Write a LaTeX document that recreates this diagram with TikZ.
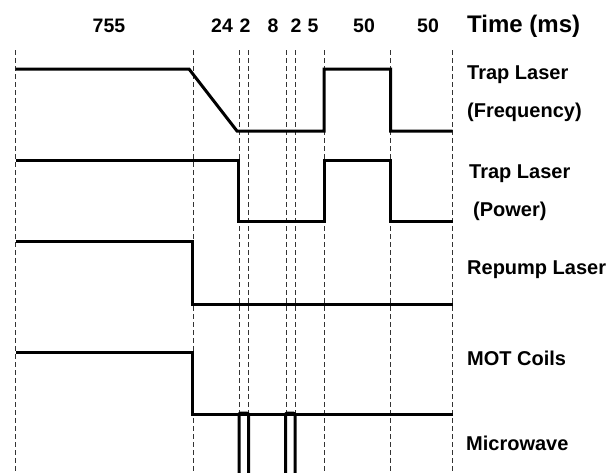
\documentclass[tikz,border=0pt]{standalone}
\usepackage{fontspec}
\setmainfont{Liberation Sans}
\usetikzlibrary{positioning}

\begin{document}
\begin{tikzpicture}[x=1pt, y=-1pt,
  every node/.style={font=\fontsize{19.5}{22}\selectfont\bfseries, inner sep=0pt},
  tick/.style={draw=black!80, line width=0.8pt, dash pattern=on 5pt off 3pt},
  sig/.style={line width=3pt},
  lbl/.style={anchor=west, font=\fontsize{20}{22}\selectfont\bfseries},
]
\useasboundingbox (0,0) rectangle (610,472);
% time marks
\foreach \t/\x in {a/15.5, b/193, c/239, d/248.5, e/286, f/295, g/324, h/390.5, k/452.5} {
  \coordinate (top\t) at (\x,50);
  \coordinate (bot\t) at (\x,472);
  \draw[tick] (top\t) -- (bot\t);
}
% durations
\node (d755) at (109,26) {755};
\node (d24) at (222,26) {24};
\node (d2a) at (245,26) {2};
\node (d8) at (273,26) {8};
\node (d2b) at (296,26) {2};
\node (d5) at (313,26) {5};
\node (d50a) at (364,26) {50};
\node (d50b) at (428,26) {50};
\node[lbl, font=\fontsize{24}{26}\selectfont\bfseries] (time) at (467,26) {Time (ms)};
% channel names
\node[lbl] (freq1) at (467,75) {Trap Laser};
\node[lbl] (freq2) at (467,112) {(Frequency)};
\node[lbl] (pow1) at (469,174) {Trap Laser};
\node[lbl] (pow2) at (473,211) {(Power)};
\node[lbl] (rep) at (467,270) {Repump Laser};
\node[lbl] (mot) at (467,358) {MOT Coils};
\node[lbl] (mw) at (466,443) {Microwave};
% trap laser frequency
\draw[sig] (15.5,69) -- (189,69) -- (237,131) -- (324,131) -- (324,69)
  -- (390.5,69) -- (390.5,131) -- (452.5,131);
% trap laser power
\draw[sig] (15.5,160) -- (238,160) -- (238,221) -- (324,221) -- (324,160)
  -- (390.5,160) -- (390.5,221) -- (452.5,221);
% repump laser
\draw[sig] (15.5,241) -- (192,241) -- (192,304) -- (452.5,304);
% MOT coils
\draw[sig] (15.5,352) -- (192,352) -- (192,414) -- (452.5,414);
% microwave pulses
\draw[sig, rounded corners=2pt] (239,474) -- (239,413) -- (248.5,413) -- (248.5,474);
\draw[sig, rounded corners=2pt] (285.5,474) -- (285.5,413) -- (295,413) -- (295,474);
\end{tikzpicture}
\end{document}
